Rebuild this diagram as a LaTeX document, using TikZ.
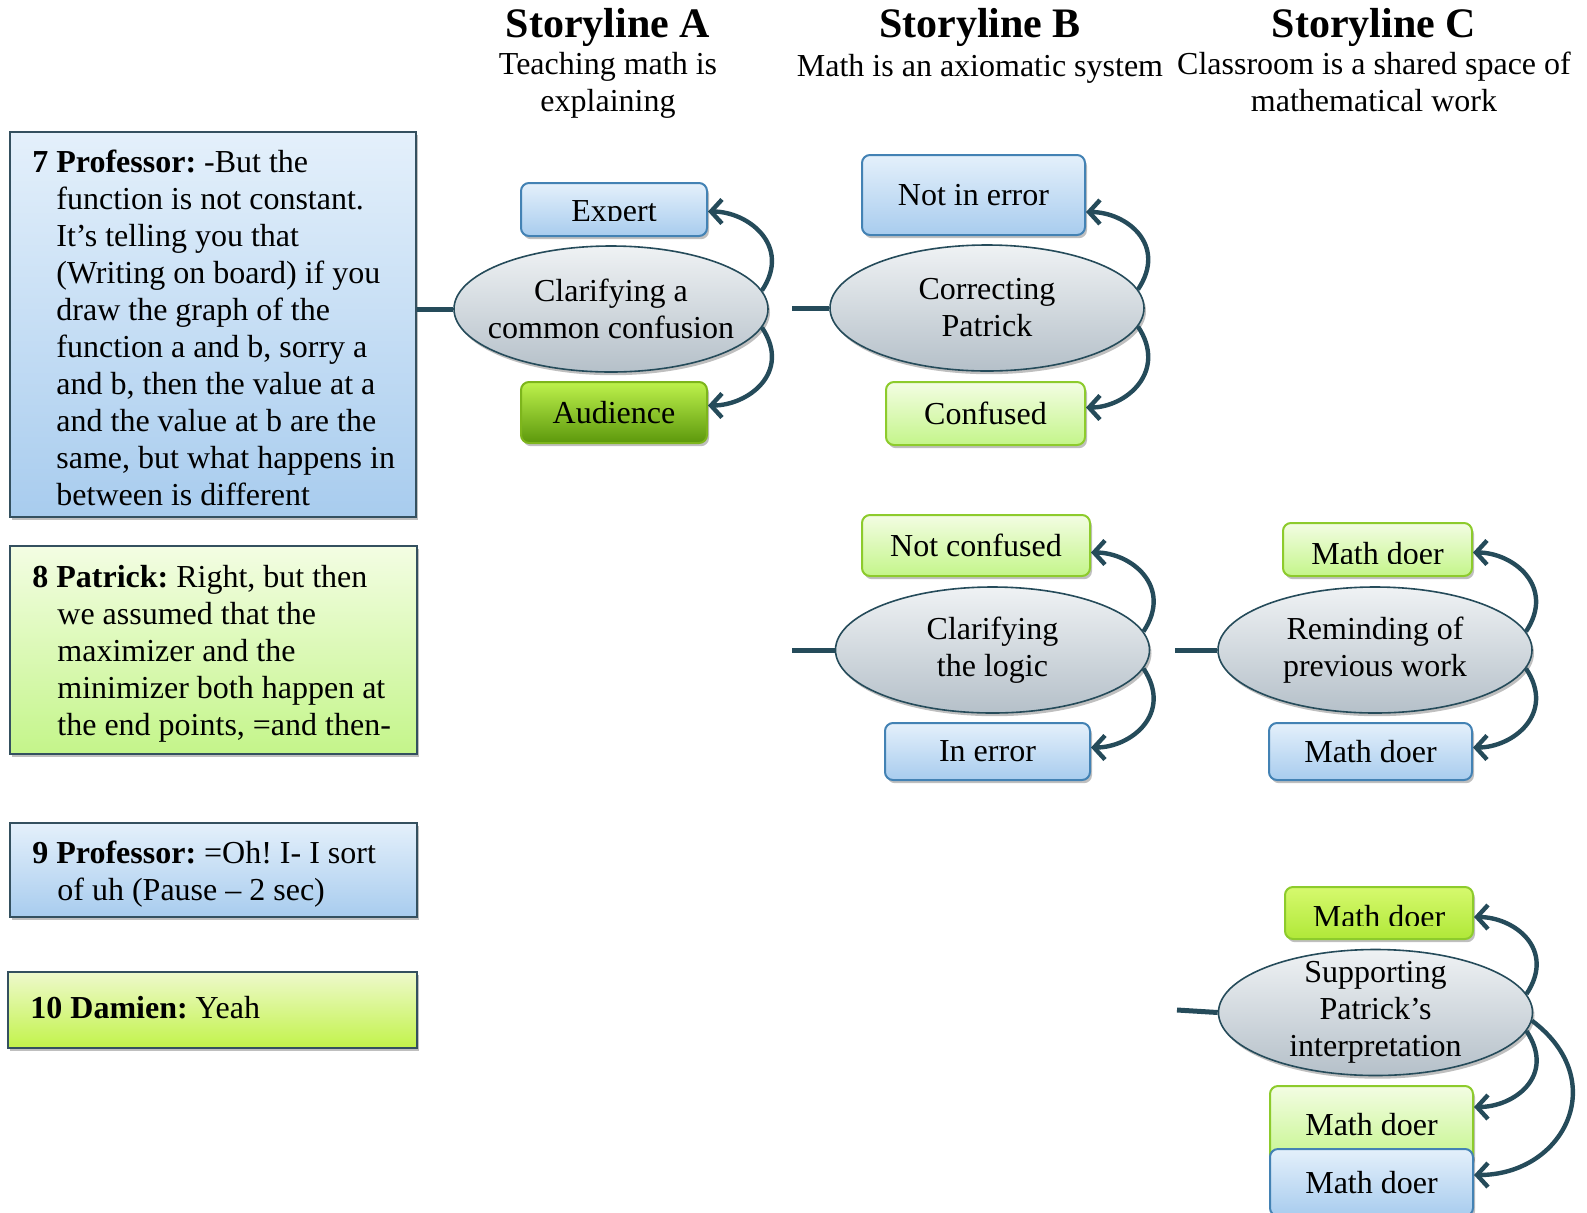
\documentclass[tikz,border=0pt]{standalone}
\usepackage{fontspec}
\setmainfont{Liberation Serif}
\usetikzlibrary{arrows.meta,shadows,shapes.geometric}
\frenchspacing

\definecolor{linkc}{HTML}{254B5A}
\definecolor{slate}{HTML}{34505F}
\definecolor{bluetop}{HTML}{E4F0FB}
\definecolor{bluebot}{HTML}{A8CCEE}
\definecolor{blueline}{HTML}{4382B4}
\definecolor{greentop}{HTML}{F3FDE3}
\definecolor{greenbot}{HTML}{C4F58A}
\definecolor{greenline}{HTML}{8DCB2C}
\definecolor{limetop}{HTML}{EEF9CC}
\definecolor{limebot}{HTML}{C2F34A}
\definecolor{audtop}{HTML}{BEF24C}
\definecolor{audbot}{HTML}{5C980C}
\definecolor{audline}{HTML}{7DB51C}
\definecolor{brighttop}{HTML}{D6F96E}
\definecolor{brightbot}{HTML}{B0E838}
\definecolor{elltop}{HTML}{EFF2F4}
\definecolor{ellbot}{HTML}{B5C0C9}

\newcommand\txtsize{\fontsize{16}{18.5}\selectfont\frenchspacing}
\newcommand\hdsize{\fontsize{21}{25}\selectfont\bfseries}

\tikzset{
  softshadow/.style={drop shadow={shadow xshift=1pt,shadow yshift=-1.6pt,opacity=.25,fill=black}},
  turnbox/.style={rectangle,draw=slate,line width=1pt,inner sep=0,softshadow},
  rolebox/.style={rectangle,rounded corners=4pt,line width=1pt,inner sep=0,font=\txtsize,softshadow},
  blueshade/.style={top color=bluetop,bottom color=bluebot,draw=blueline},
  greenshade/.style={top color=greentop,bottom color=greenbot,draw=greenline},
  limeshade/.style={top color=limetop,bottom color=limebot},
  audshade/.style={top color=audtop,bottom color=audbot,draw=audline},
  brightshade/.style={top color=brighttop,bottom color=brightbot,draw=greenline},
  movebubble/.style={ellipse,draw=linkc,line width=0.8pt,top color=elltop,bottom color=ellbot,
    minimum width=157pt,minimum height=63pt,inner xsep=-25pt,inner ysep=-10pt,
    align=center,font=\txtsize,softshadow},
  conn/.style={draw=linkc,line width=2.5pt},
  rel/.style={draw=linkc,line width=2.2pt,-{Straight Barb[length=5.5pt,width=12pt]}},
  heading/.style={anchor=base,inner sep=0,font=\hdsize},
  subhead/.style={anchor=base,inner sep=0,font=\txtsize},
  turntext/.style={anchor=base west,inner sep=0,font=\txtsize},
}

\begin{document}
\begin{tikzpicture}[x=0.5pt,y=-0.5pt]
\useasboundingbox (0,0) rectangle (1587,1212);

% column headings
\node[heading] (hA) at (608,37) {Storyline A};
\node[heading] (hB) at (980,37) {Storyline B};
\node[heading] (hC) at (1374,37) {Storyline C};
\node[subhead] (sA) at (608,74) {\parbox[t]{200pt}{\centering Teaching math is\\explaining}};
\node[subhead] (sB) at (980,76) {Math is an axiomatic system};
\node[subhead] (sC) at (1374,74) {\parbox[t]{220pt}{\centering Classroom is a shared space of\\mathematical work}};

% transcript turns
\node[turnbox,blueshade,draw=slate,minimum width=203pt,minimum height=192.5pt] (t7) at (213,324.5) {};
\node[turntext] (t7text) at (32,172) {\parbox[t]{200pt}{\raggedright\hangindent=12pt\hangafter=1
  \textbf{7 Professor:} -But the\newline function is not constant.\newline It’s telling you that\newline
  (Writing on board) if you\newline draw the graph of the\newline function a and b, sorry a\newline
  and b, then the value at a\newline and the value at b are the\newline same, but what happens in\newline
  between is different}};

\node[turnbox,top color=greentop,bottom color=greenbot,minimum width=203.5pt,minimum height=104pt] (t8) at (213.5,650) {};
\node[turntext] (t8text) at (32,587) {\parbox[t]{200pt}{\raggedright\hangindent=12.5pt\hangafter=1
  \textbf{8 Patrick:} Right, but then\newline we assumed that the\newline maximizer and the\newline
  minimizer both happen at\newline the end points, =and then-}};

\node[turnbox,blueshade,draw=slate,minimum width=203.5pt,minimum height=47pt] (t9) at (213.5,870) {};
\node[turntext] (t9text) at (32,863) {\parbox[t]{200pt}{\raggedright\hangindent=12.5pt\hangafter=1
  \textbf{9 Professor:} =Oh! I- I sort\newline of uh (Pause – 2 sec)}};

\node[turnbox,limeshade,minimum width=204.5pt,minimum height=38pt] (t10) at (212.5,1010) {};
\node[turntext] (t10text) at (30,1018) {\textbf{10 Damien:} Yeah};

% Storyline A: clarifying a common confusion
\node[movebubble] (ea) at (611,309) {Clarifying a\\common confusion};
\node[rolebox,blueshade,minimum width=93pt,minimum height=26.5pt] (expert) at (614,209.5) {};
\begin{scope}
  \clip (521,183) rectangle (707,220);
  \node[anchor=base,inner sep=0,font=\txtsize] (experttext) at (614,221) {Expert};
\end{scope}
\node[rolebox,audshade,minimum width=93pt,minimum height=30.5pt] (aud) at (614,412.5) {Audience};
\draw[conn] (ea.west) -- (ea.west -| t7.east);
\draw[rel] (ea.7) .. controls +(30,-45) and +(40,0) .. ([yshift=-1pt]expert.east);
\draw[rel] (ea.353) .. controls +(30,45) and +(40,0) .. ([yshift=3.5pt]aud.east);

% Storyline B: correcting Patrick
\node[movebubble] (eb) at (987,308) {Correcting\\Patrick};
\node[rolebox,blueshade,minimum width=111.5pt,minimum height=40pt] (noerr) at (973.5,195) {Not in error};
\node[rolebox,greenshade,minimum width=99.5pt,minimum height=31.5pt] (conf) at (985.5,413.5) {Confused};
\coordinate (stubB) at (792,308);
\draw[conn] (stubB) -- (eb.west);
\draw[rel] (eb.7) .. controls +(30,-45) and +(40,0) .. ([yshift=-8.5pt]noerr.east);
\draw[rel] (eb.353) .. controls +(30,45) and +(40,0) .. ([yshift=3pt]conf.east);

% Storyline B: clarifying the logic
\node[movebubble] (ec) at (992.5,650) {Clarifying\\the logic};
\node[rolebox,greenshade,minimum width=114pt,minimum height=30.5pt] (notconf) at (976,545.5) {Not confused};
\node[rolebox,blueshade,minimum width=102.5pt,minimum height=28.5pt] (inerr) at (987.5,751.5) {In error};
\coordinate (stubC) at (792,650);
\draw[conn] (stubC) -- (ec.west);
\draw[rel] (ec.7) .. controls +(30,-45) and +(40,0) .. ([yshift=-3.5pt]notconf.east);
\draw[rel] (ec.353) .. controls +(30,45) and +(40,0) .. ([yshift=2pt]inerr.east);

% Storyline C: reminding of previous work
\node[movebubble] (ed) at (1375,650) {Reminding of\\previous work};
\node[rolebox,greenshade,minimum width=94.5pt,minimum height=26.5pt] (doerA) at (1377.5,549.5) {};
\begin{scope}
  \clip (1283,523) rectangle (1472,563);
  \node[anchor=base,inner sep=0,font=\txtsize] (doerAtext) at (1377.5,564) {Math doer};
\end{scope}
\node[rolebox,blueshade,minimum width=101.5pt,minimum height=28.5pt] (doerB) at (1370.5,751.5) {Math doer};
\coordinate (stubD) at (1175,650);
\draw[conn] (stubD) -- (ed.west);
\draw[rel] (ed.7) .. controls +(30,-45) and +(40,0) .. ([yshift=-1.5pt]doerA.east);
\draw[rel] (ed.353) .. controls +(30,45) and +(40,0) .. ([yshift=2pt]doerB.east);

% Storyline C: supporting Patrick's interpretation
\node[movebubble] (ee) at (1375.5,1012.5) {Supporting\\Patrick’s\\interpretation};
\node[rolebox,brightshade,minimum width=94pt,minimum height=26pt] (doerC) at (1379,913) {};
\begin{scope}
  \clip (1285,887) rectangle (1473,925);
  \node[anchor=base,inner sep=0,font=\txtsize] (doerCtext) at (1379,927) {Math doer};
\end{scope}
\node[rolebox,greenshade,minimum width=101.5pt,minimum height=39pt] (doerD) at (1371.5,1125) {Math doer};
\node[rolebox,blueshade,minimum width=101.5pt,minimum height=33.5pt] (doerE) at (1371.5,1182.5) {Math doer};
\coordinate (stubE) at (1177,1010);
\draw[conn] (stubE) -- (ee.west);
\draw[rel] (ee.7) .. controls +(30,-45) and +(40,0) .. ([yshift=-2pt]doerC.east);
\draw[rel] (ee.353) .. controls +(30,45) and +(40,0) .. ([yshift=9pt]doerD.east);
\draw[rel] (ee.357) .. controls +(80,60) and +(90,0) .. ([yshift=3.75pt]doerE.east);
\end{tikzpicture}
\end{document}
